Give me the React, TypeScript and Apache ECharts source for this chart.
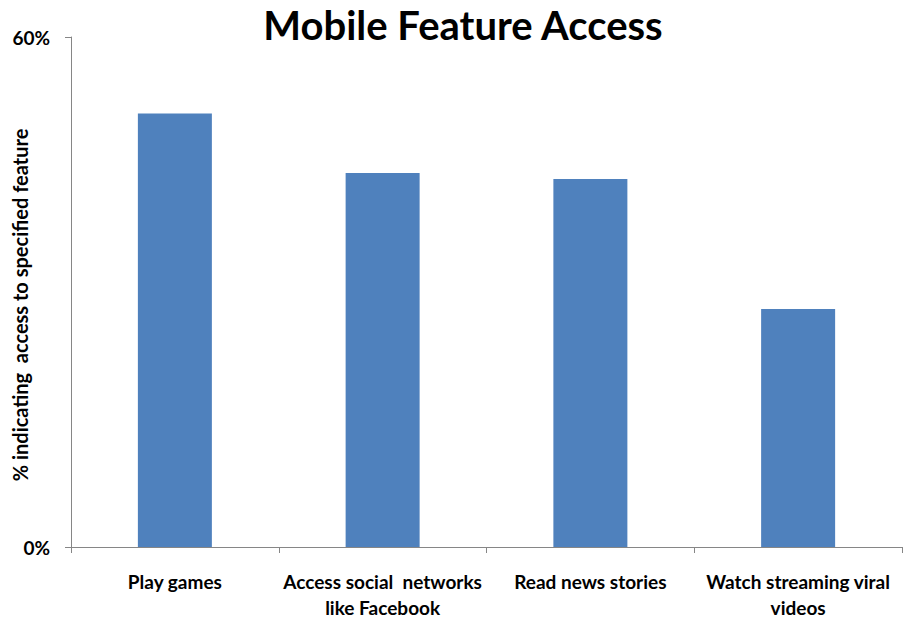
import React, { useEffect, useRef } from "react";
import * as echarts from "echarts";

const categories = [
  "Play games",
  "Access social  networks\nlike Facebook",
  "Read news stories",
  "Watch streaming viral\nvideos",
];
const values = [51, 44, 43.3, 28];
const yTicks = [0, 60];

export default function App() {
  const ref = useRef<HTMLDivElement>(null);
  useEffect(() => {
    if (!ref.current) return;
    const chart = echarts.init(ref.current, null, { renderer: "svg" });
    const font = "Lato, 'Open Sans', sans-serif";
    chart.setOption({
      animation: false,
      backgroundColor: "#ffffff",
      title: {
        text: "Mobile Feature Access",
        left: 458,
        textAlign: "center",
        top: 0,
        textStyle: { fontFamily: font, fontWeight: "bold", fontSize: 40, color: "#000" },
      },
      grid: {
        left: 71,
        right: 3,
        top: 37,
        bottom: 70,
        containLabel: false,
        outerBoundsMode: "none",
      },
      xAxis: {
        type: "category",
        data: categories,
        axisLine: { lineStyle: { color: "#868686", width: 1 } },
        axisTick: { show: true, length: 6, lineStyle: { color: "#868686" } },
        axisLabel: {
          interval: 0,
          margin: 21,
          fontFamily: font,
          fontWeight: "bold",
          fontSize: 19,
          color: "#000",
          lineHeight: 26,
        },
      },
      yAxis: {
        type: "value",
        min: yTicks[0],
        max: yTicks[yTicks.length - 1],
        interval: 60,
        name: "% indicating  access to specified feature",
        nameLocation: "middle",
        nameGap: 41,
        nameMoveOverlap: false,
        nameTextStyle: {
          fontFamily: font,
          fontWeight: "bold",
          fontSize: 20,
          color: "#000",
          padding: [0, 26, 0, 0],
        },
        splitLine: { show: false },
        axisLine: { show: true, lineStyle: { color: "#868686", width: 1 } },
        axisTick: { show: true, length: 6, lineStyle: { color: "#868686" } },
        axisLabel: {
          formatter: "{value}%",
          margin: 21,
          fontFamily: font,
          fontWeight: "bold",
          fontSize: 19,
          color: "#000",
        },
      },
      series: [
        {
          type: "bar",
          data: values,
          barWidth: 74,
          itemStyle: { color: "#4F81BD" },
        },
      ],
    });
    return () => chart.dispose();
  }, []);
  return (
    <div
      ref={ref}
      style={{ position: "fixed", left: 0, top: 0, width: 905, height: 617 }}
    />
  );
}
